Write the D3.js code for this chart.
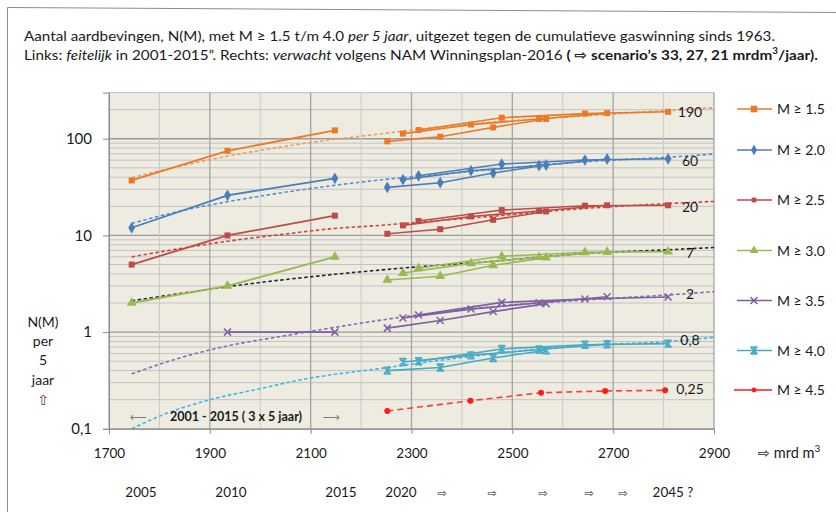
<!DOCTYPE html>
<html>
<head>
<meta charset="utf-8">
<script src="https://cdn.jsdelivr.net/npm/d3@7"></script>
<style>
  body { margin: 0; background: #fff; }
  svg { display: block; }
  text { font-family: Lato, "Open Sans", "DejaVu Sans", sans-serif; fill: #1a1a1a; }
</style>
</head>
<body>
<svg id="chart" width="836" height="512"></svg>
<script>
// ---- data -------------------------------------------------------------
const magnitudes = ["M ≥ 1.5", "M ≥ 2.0", "M ≥ 2.5", "M ≥ 3.0", "M ≥ 3.5", "M ≥ 4.0", "M ≥ 4.5"];
const seriesColors = ["#EB7A28", "#4A7EBB", "#BE4B48", "#98B954", "#7D60A0", "#46AAC5", "#FF1A1A"];
const trendColors  = ["#F29A5A", "#4F8ED6", "#D0403C", "#262626", "#8A68B4", "#3CB4EA"];
const markerShapes = ["square", "diamond", "square", "triangle", "cross", "star", "circle"];

// cumulative gas production (mrd m3) at 2005, 2010, 2015
const gasActual = [1745, 1935, 2148];
const actual15 = [37, 75, 122];
const actual20 = [12, 26, 39];
const actual25 = [5, 10, 16];
const actual30 = [2, 3, 6];
const actual35 = [null, 1, 1];

// NAM Winningsplan-2016 scenarios: 21, 27 and 33 mrd m3 per year
const gasScen21 = [2252, 2357, 2462, 2567];
const gasScen27 = [2283, 2418, 2553, 2688];
const gasScen33 = [2314, 2479, 2644, 2809];

const scen21_15 = [94, 105, 131, 160];
const scen27_15 = [113, 140, 160, 184];
const scen33_15 = [123, 165, 182, 190];
const scen21_20 = [31.4, 35.1, 44.2, 53.5];
const scen27_20 = [37.7, 46.7, 52.6, 61.7];
const scen33_20 = [41.4, 54.7, 60.2, 62];
const scen21_25 = [10.4, 11.6, 14.5, 17.7];
const scen27_25 = [12.7, 15.7, 17.9, 20.5];
const scen33_25 = [14.1, 18.3, 20.3, 20.5];
const scen21_30 = [3.46, 3.78, 4.91, 5.89];
const scen27_30 = [4.08, 5.14, 5.95, 6.73];
const scen33_30 = [4.57, 6.08, 6.69, 6.8];
const scen21_35 = [1.10, 1.32, 1.63, 1.97];
const scen27_35 = [1.40, 1.73, 2.01, 2.32];
const scen33_35 = [1.50, 2.03, 2.20, 2.31];
const scen21_40 = [0.40, 0.43, 0.54, 0.65];
const scen27_40 = [0.49, 0.575, 0.66, 0.75];
const scen33_40 = [0.50, 0.67, 0.74, 0.76];

const gas45 = [2252, 2417, 2557, 2684, 2803];
const vals45 = [0.153, 0.195, 0.236, 0.246, 0.25];

// fitted trend curves, [gas, N] pairs
const trend15 = [[1745, 39.5], [1840, 52], [1935, 66], [2040, 82], [2148, 98.6], [2237, 112], [2400, 140], [2550, 160], [2700, 180], [2800, 195], [2900, 209]];
const trend20 = [[1745, 13.3], [1840, 17.8], [1935, 22.3], [2040, 27.5], [2148, 33], [2237, 37.4], [2350, 42.5], [2462, 48.2], [2643, 57.8], [2807, 64.3], [2900, 69.5]];
const trend25 = [[1745, 6.0], [1840, 7.3], [1935, 8.7], [2040, 10.2], [2148, 11.8], [2237, 12.7], [2350, 14.2], [2462, 15.8], [2643, 19.0], [2807, 21.3], [2900, 22.5]];
const trend30 = [[1745, 2.11], [1840, 2.5], [1935, 2.95], [2040, 3.45], [2148, 3.96], [2277, 4.57], [2462, 5.4], [2643, 6.5], [2807, 7.1], [2900, 7.5]];
const trend35 = [[1745, 0.37], [1840, 0.54], [1935, 0.72], [2040, 0.9], [2148, 1.12], [2277, 1.42], [2462, 1.83], [2643, 2.15], [2807, 2.42], [2900, 2.62]];
const trend40 = [[1745, 0.1], [1800, 0.135], [1900, 0.2], [2000, 0.26], [2079, 0.32], [2252, 0.43], [2417, 0.56], [2643, 0.73], [2807, 0.8], [2900, 0.88]];

const endLabels = ["190", "60", "20", "7", "2", "0,8", "0,25"];
const xTicks = [1700, 1900, 2100, 2300, 2500, 2700, 2900];
const yTicks = [0.1, 1, 10, 100];
const yTickLabels = ["0,1", "1", "10", "100"];
const yearLabels = ["2005", "2010", "2015", "2020", "⇨", "⇨", "⇨", "⇨", "⇨", "2045 ?"];

// ---- layout -----------------------------------------------------------
const svg = d3.select("#chart");
const x = d3.scaleLinear().domain([1700, 2900]).range([109, 714]);
const y = d3.scaleLog().domain([0.1, 300]).range([428.8, 92.6]);

// outer frame (left and top edges visible)
svg.append("path")
  .attr("d", "M7.5,520 L7.5,7.5 L840,12.5")
  .attr("fill", "none").attr("stroke", "#8c8c8c").attr("stroke-width", 1);

// title
function fitText(sel, x0, y0, width) {
  const w = sel.node().getComputedTextLength();
  sel.attr("transform", `translate(${x0},${y0}) scale(${width / w},1)`);
}
const t1 = svg.append("text").attr("font-size", 14);
t1.append("tspan").text("Aantal aardbevingen, N(M), met M ≥ 1.5 t/m 4.0 ");
t1.append("tspan").attr("font-style", "italic").text("per 5 jaar");
t1.append("tspan").text(", uitgezet tegen de cumulatieve gaswinning sinds 1963.");
fitText(t1, 24, 41, 752);

const t2 = svg.append("text").attr("font-size", 14);
t2.append("tspan").text("Links:  ");
t2.append("tspan").attr("font-style", "italic").text("feitelijk");
t2.append("tspan").text(" in 2001-2015”. Rechts: ");
t2.append("tspan").attr("font-style", "italic").text("verwacht");
t2.append("tspan").text(" volgens NAM Winningsplan-2016 ");
t2.append("tspan").attr("font-weight", "bold").text("( ⇨ scenario’s 33, 27, 21 mrdm");
t2.append("tspan").attr("font-weight", "bold").attr("font-size", 9).attr("dy", -6).text("3");
t2.append("tspan").attr("font-weight", "bold").attr("dy", 6).text("/jaar).");
fitText(t2, 24, 60, 794);

// plot background
const plot = svg.append("g");
plot.append("rect")
  .attr("x", x(1700)).attr("y", y(300))
  .attr("width", x(2900) - x(1700)).attr("height", y(0.1) - y(300))
  .attr("fill", "#EEECE1");

// horizontal grid
const hGrid = [];
for (let e = -1; e <= 2; e++) {
  for (let k = 1; k <= 9; k++) {
    const v = k * Math.pow(10, e);
    if (v <= 300) hGrid.push({ v, major: k === 1 });
  }
}
plot.selectAll(".hg").data(hGrid).join("line")
  .attr("x1", x(1700)).attr("x2", x(2900))
  .attr("y1", d => y(d.v)).attr("y2", d => y(d.v))
  .attr("stroke", d => d.major ? "#9a9a9a" : "#c2c2c2")
  .attr("stroke-width", d => d.major ? 1.3 : 1);

// vertical grid
const vGrid = d3.range(1700, 2901, 100).map(v => ({ v, major: (v - 1700) % 200 === 0 }));
plot.selectAll(".vg").data(vGrid).join("line")
  .attr("y1", y(300)).attr("y2", y(0.1))
  .attr("x1", d => x(d.v)).attr("x2", d => x(d.v))
  .attr("stroke", d => d.major ? "#a4a4a4" : "#c8c8c8")
  .attr("stroke-width", d => d.major ? 1.3 : 1);

// axes
const yAxis = svg.append("g").attr("transform", `translate(${x(1700)},0)`)
  .call(d3.axisLeft(y).tickValues(yTicks).tickSize(6).tickPadding(11)
    .tickFormat((d, i) => yTickLabels[i]));
yAxis.select(".domain").attr("stroke", "#8c8c8c");
yAxis.selectAll(".tick line").attr("stroke", "#8c8c8c");
yAxis.selectAll("text").attr("font-size", 15).attr("font-family", "Lato, 'Open Sans', sans-serif").attr("fill", "#1a1a1a");

const xAxis = svg.append("g").attr("transform", `translate(0,${y(0.1)})`)
  .call(d3.axisBottom(x).tickValues(xTicks).tickSize(5).tickPadding(15).tickFormat(d3.format("d")));
xAxis.select(".domain").attr("stroke", "#8c8c8c");
xAxis.selectAll(".tick line").attr("stroke", "#8c8c8c");
xAxis.selectAll("text").attr("font-size", 13.5).attr("font-family", "Lato, 'Open Sans', sans-serif").attr("fill", "#1a1a1a");

// axis captions
const unit = svg.append("text").attr("x", 758).attr("y", 458).attr("font-size", 14.5);
unit.append("tspan").text("⇨ mrd m");
unit.append("tspan").attr("font-size", 10).attr("dy", -6).text("3");

const yCap = ["N(M)", "per", "5", "jaar"];
svg.selectAll(".ycap").data(yCap).join("text")
  .attr("x", 43).attr("y", (d, i) => 327 + i * 19.2)
  .attr("text-anchor", "middle").attr("font-size", 14).text(d => d);
svg.append("text").attr("x", 43).attr("y", 405).attr("text-anchor", "middle")
  .attr("font-size", 14).style("fill", "#7a2a3a").text("⇧");

// year row below the axis
const yearX = [141, 231, 341, 401, 442, 492, 543, 589, 623, 673];
svg.selectAll(".yr").data(yearLabels).join("text")
  .attr("x", (d, i) => yearX[i]).attr("y", 497)
  .attr("text-anchor", "middle").attr("font-size", d => d === "⇨" ? 11 : 13.5)
  .text(d => d);

// ---- marks ------------------------------------------------------------
function drawMarker(g, shape, cx, cy, color, s) {
  const sz = s || 1;
  if (shape === "square") {
    g.append("rect").attr("x", cx - 3 * sz).attr("y", cy - 3 * sz)
      .attr("width", 6 * sz).attr("height", 6 * sz).attr("fill", color);
  } else if (shape === "diamond") {
    g.append("path").attr("d", d3.symbol(d3.symbolDiamond, 40 * sz)()).attr("transform", `translate(${cx},${cy})`).attr("fill", color);
  } else if (shape === "triangle") {
    g.append("path").attr("d", d3.symbol(d3.symbolTriangle, 42 * sz)()).attr("transform", `translate(${cx},${cy})`).attr("fill", color);
  } else if (shape === "cross") {
    g.append("path").attr("d", `M${cx - 3.5},${cy - 3.5}L${cx + 3.5},${cy + 3.5}M${cx - 3.5},${cy + 3.5}L${cx + 3.5},${cy - 3.5}`)
      .attr("stroke", color).attr("stroke-width", 1.5);
  } else if (shape === "star") {
    g.append("path").attr("d", `M${cx - 3.5},${cy - 3.5}L${cx + 3.5},${cy + 3.5}M${cx - 3.5},${cy + 3.5}L${cx + 3.5},${cy - 3.5}M${cx},${cy - 4}L${cx},${cy + 4}M${cx - 3.5},${cy - 3.5}L${cx + 3.5},${cy - 3.5}M${cx - 3.5},${cy + 3.5}L${cx + 3.5},${cy + 3.5}`)
      .attr("stroke", color).attr("stroke-width", 1.4);
  } else if (shape === "circle") {
    g.append("circle").attr("cx", cx).attr("cy", cy).attr("r", 3 * sz).attr("fill", color);
  }
}

const lineGen = d3.line().defined(d => d[1] != null).x(d => x(d[0])).y(d => y(d[1]));
const curveGen = d3.line().curve(d3.curveMonotoneX).x(d => x(d[0])).y(d => y(d[1]));

svg.append("clipPath").attr("id", "plotClip").append("rect")
  .attr("x", x(1700)).attr("y", y(300)).attr("width", x(2900) - x(1700)).attr("height", y(0.1) - y(300));

const marks = svg.append("g").attr("clip-path", "url(#plotClip)");

// dashed trend curves
const trends = [trend15, trend20, trend25, trend30, trend35, trend40];
trends.forEach((tr, i) => {
  marks.append("path").attr("d", curveGen(tr)).attr("fill", "none")
    .attr("stroke", trendColors[i]).attr("stroke-width", 1.6).attr("stroke-dasharray", "3.5,2.5");
});

// actual and scenario lines
const actual = [actual15, actual20, actual25, actual30, actual35, null];
const scen = [
  [scen21_15, scen27_15, scen33_15],
  [scen21_20, scen27_20, scen33_20],
  [scen21_25, scen27_25, scen33_25],
  [scen21_30, scen27_30, scen33_30],
  [scen21_35, scen27_35, scen33_35],
  [scen21_40, scen27_40, scen33_40]
];
const scenGas = [gasScen21, gasScen27, gasScen33];

for (let i = 0; i < 6; i++) {
  const col = seriesColors[i];
  const g = marks.append("g");
  if (actual[i]) {
    const pts = gasActual.map((gx, j) => [gx, actual[i][j]]);
    g.append("path").attr("d", lineGen(pts)).attr("fill", "none").attr("stroke", col).attr("stroke-width", 1.8);
    pts.filter(p => p[1] != null).forEach(p => drawMarker(g, markerShapes[i], x(p[0]), y(p[1]), col));
  }
  scen[i].forEach((vals, s) => {
    const pts = scenGas[s].map((gx, j) => [gx, vals[j]]);
    g.append("path").attr("d", lineGen(pts)).attr("fill", "none").attr("stroke", col).attr("stroke-width", 1.6);
    pts.forEach(p => drawMarker(g, markerShapes[i], x(p[0]), y(p[1]), col));
  });
}

// M >= 4.5 forecast
const pts45 = gas45.map((gx, j) => [gx, vals45[j]]);
marks.append("path").attr("d", lineGen(pts45)).attr("fill", "none")
  .attr("stroke", "#FF3B3B").attr("stroke-width", 1.6).attr("stroke-dasharray", "6,4");
pts45.forEach(p => drawMarker(marks, "circle", x(p[0]), y(p[1]), seriesColors[6]));

// end-value labels
const labelY = [111.7, 161, 206.7, 252.7, 294, 340, 389.3];
svg.selectAll(".endlab").data(endLabels).join("text")
  .attr("x", 690).attr("y", (d, i) => labelY[i] + 5)
  .attr("text-anchor", "middle").attr("font-size", 14).attr("fill", "#262626")
  .text(d => d);

// period annotation in the lower left
const ann = svg.append("g");
ann.append("text").attr("x", 236).attr("y", 421).attr("text-anchor", "middle")
  .attr("font-size", 12.5).attr("font-weight", "bold").text("2001 - 2015 ( 3 x 5 jaar)");
ann.append("text").attr("x", 138).attr("y", 421).attr("text-anchor", "middle")
  .attr("font-size", 12).style("fill", "#7f7f7f").text("⟵");
ann.append("text").attr("x", 331).attr("y", 421).attr("text-anchor", "middle")
  .attr("font-size", 12).style("fill", "#7f7f7f").text("⟶");

// ---- legend -------------------------------------------------------------
const legendY = [109, 150, 200, 250.5, 300.5, 350.5, 390];
magnitudes.forEach((m, i) => {
  const g = svg.append("g");
  const col = seriesColors[i];
  const x0 = i === 6 ? 734 : 737;
  g.append("line").attr("x1", x0).attr("x2", 772).attr("y1", legendY[i]).attr("y2", legendY[i])
    .attr("stroke", col).attr("stroke-width", 1.6);
  drawMarker(g, markerShapes[i], 754, legendY[i], col, i === 0 ? 1.1 : 0.8);
  g.append("text").attr("x", 777).attr("y", legendY[i] + 5).attr("font-size", 14).text(m);
});
</script>
</body>
</html>
